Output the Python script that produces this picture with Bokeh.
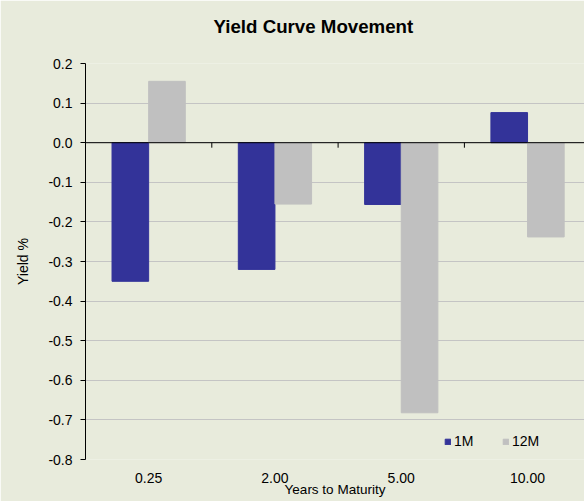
from bokeh.plotting import figure
from bokeh.models import Range1d, FixedTicker, NumeralTickFormatter, Span, Legend, LegendItem, Title
from bokeh.embed import file_html
from bokeh.resources import INLINE

categories = ["0.25", "2.00", "5.00", "10.00"]
series_names = ["1M", "12M"]
yield_1m = [-0.35, -0.32, -0.156, 0.076]
yield_12m = [0.155, -0.155, -0.682, -0.238]
y_ticks = [0.2, 0.1, 0.0, -0.1, -0.2, -0.3, -0.4, -0.5, -0.6, -0.7, -0.8]
colors = ["#333399", "#C0C0C0"]
title_text = "Yield Curve Movement"

FONT = "Liberation Sans"
BG = "#e8ebdc"

centers = [i + 0.5 for i in range(len(categories))]
bar_w = 0.29

p = figure(width=584, height=501, output_backend="svg", toolbar_location=None,
           x_range=Range1d(0, 3.951), y_range=Range1d(-0.8, 0.2),
           min_border_left=85, min_border_right=0, min_border_top=63, min_border_bottom=42,
           background_fill_color=BG, border_fill_color=BG, outline_line_color=None)

# real title (outer), spacer title next to the frame
p.title.text = title_text
p.title.text_font = FONT
p.title.text_font_size = "18.7px"
p.title.text_font_style = "bold"
p.title.text_color = "#000000"
p.title.align = "left"
p.title.offset = 128
p.title.vertical_align = "bottom"
p.title.standoff = 2
p.add_layout(Title(text=" ", text_font_size="2px", standoff=22), "above")

r1 = p.vbar(x=[c - bar_w / 2 for c in centers], top=yield_1m, bottom=0, width=bar_w,
            fill_color=colors[0], line_color=colors[0])
r2 = p.vbar(x=[c + bar_w / 2 for c in centers], top=yield_12m, bottom=0, width=bar_w,
            fill_color=colors[1], line_color=colors[1])

# zero line and boundary ticks on it
p.add_layout(Span(location=0, dimension="width", line_color="black", line_width=1))
bounds = list(range(1, len(categories)))
p.segment(x0=bounds, x1=bounds, y0=[0] * len(bounds), y1=[-0.0126] * len(bounds),
          line_color="black", line_width=1)

# y axis
ya = p.yaxis[0]
ya.ticker = FixedTicker(ticks=y_ticks)
ya.formatter = NumeralTickFormatter(format="0.0")
ya.axis_label = "Yield %"
ya.axis_label_text_font = FONT
ya.axis_label_text_font_size = "14px"
ya.axis_label_text_font_style = "normal"
ya.axis_label_text_color = "#000000"
ya.axis_label_standoff = 14
ya.major_label_text_font = FONT
ya.major_label_text_font_size = "14px"
ya.major_label_text_color = "#000000"
ya.major_label_standoff = 8
ya.major_tick_out = 5
ya.major_tick_in = 0
ya.minor_tick_out = 0
ya.minor_tick_in = 0
ya.axis_line_color = "black"
ya.major_tick_line_color = "black"

# x axis (labels only)
xa = p.xaxis[0]
xa.ticker = FixedTicker(ticks=centers)
xa.major_label_overrides = {c: lab for c, lab in zip(centers, categories)}
xa.major_label_text_font = FONT
xa.major_label_text_font_size = "14px"
xa.major_label_text_color = "#000000"
xa.major_label_standoff = 13
xa.major_tick_out = 0
xa.major_tick_in = 0
xa.minor_tick_out = 0
xa.minor_tick_in = 0
xa.axis_line_color = None
xa.axis_label = "Years to Maturity"
xa.axis_label_text_font = FONT
xa.axis_label_text_font_size = "13.5px"
xa.axis_label_text_font_style = "normal"
xa.axis_label_text_color = "#000000"
xa.axis_label_standoff = -4

p.xgrid.grid_line_color = None
p.ygrid.ticker = FixedTicker(ticks=y_ticks)
p.ygrid.grid_line_color = "#c4c4c4"
p.ygrid.grid_line_width = 1

legend = Legend(items=[LegendItem(label=series_names[0], renderers=[r1]),
                       LegendItem(label=series_names[1], renderers=[r2])],
                orientation="horizontal", location=(359, 10),
                background_fill_alpha=0, border_line_color=None,
                label_text_font=FONT, label_text_font_size="14px", label_text_color="#000000",
                glyph_width=7, glyph_height=7, label_standoff=3, spacing=28,
                padding=0, margin=0, label_height=14)
p.add_layout(legend, "center")

open("out.html", "w").write(file_html(p, INLINE))
